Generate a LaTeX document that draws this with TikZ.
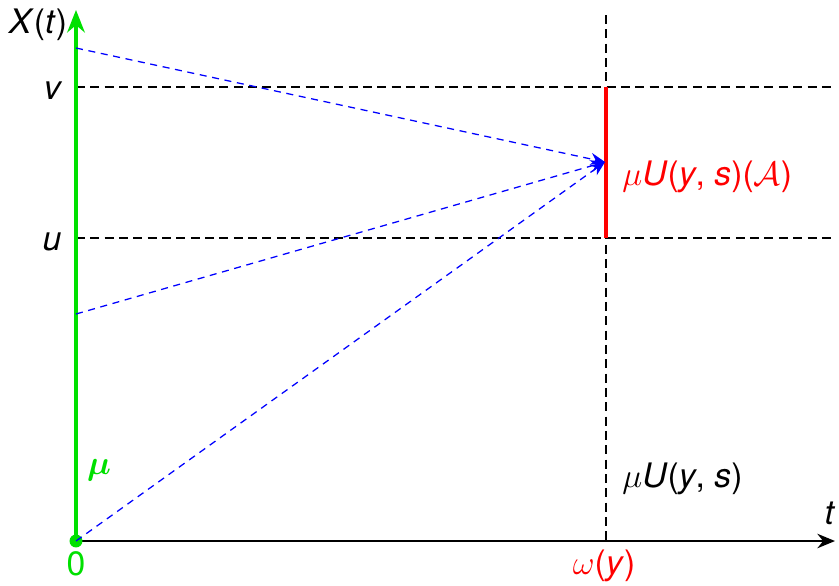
\documentclass[tikz,border=0pt]{standalone}
\usepackage{amsmath}
\usepackage{fontspec}
\setmainfont{TeX Gyre Heros}
\usepackage{tikz}
\usetikzlibrary{arrows.meta,positioning,calc}
\definecolor{brightgreen}{HTML}{00E000}
\newcommand{\vi}[1]{\textit{#1}}

\begin{document}
\begin{tikzpicture}[x=0.0125cm,y=-0.0125cm,
  guide/.style={black,line width=0.5pt,dash pattern=on 3.2pt off 1.9pt},
  ray/.style={blue,line width=0.45pt,dash pattern=on 2.5pt off 2pt,-{Stealth[length=1.8mm,width=1.5mm]}},
  lab/.style={inner sep=1pt,font=\large}]
\useasboundingbox (0,0) rectangle (839,585);
\coordinate (o) at (76,541);
\coordinate (xend) at (835,541);
\coordinate (yend) at (76,10);
\coordinate (top) at (606,15);
\coordinate (foot) at (606,541);
\coordinate (vl) at (76,87);
\coordinate (vr) at (835,87);
\coordinate (ul) at (76,238);
\coordinate (ur) at (835,238);
\coordinate (va) at (606,87);
\coordinate (ua) at (606,238);
\coordinate (p) at (605,162);
\coordinate (s1) at (76,48);
\coordinate (s2) at (76,314);
% guides
\draw[guide] (vl)--(vr);
\draw[guide] (ul)--(ur);
\draw[guide,line width=0.8pt] (top)--(foot);
\draw[red,line width=1.3pt] (va)--(ua);
% axes
\draw[black,line width=0.85pt,-{Stealth[length=2.2mm,width=1.8mm]}] (o)--(xend);
\draw[brightgreen,line width=1.3pt,-{Stealth[length=2.8mm,width=2.2mm]}] (o)--(yend);
\fill[brightgreen] (o) circle (2.3pt);
% rays
\draw[ray] (s1)--(p);
\draw[ray] (s2)--(p);
\draw[ray] (o)--(p);
% labels
\node[lab] (xt) at (38,25) {\vi{X}(\vi{t})};
\node[lab] (vlab) at (53,91) {\vi{v}};
\node[lab] (ulab) at (52,242) {\vi{u}};
\node[lab] (tlab) at (830,513) {\vi{t}};
\node[lab,text=brightgreen] (zero) at (76,564) {0};
\node[lab,text=red] (om) at (604,566) {$\omega$(\vi{y})};
\node[lab,text=brightgreen] (mu) at (99,470) {$\boldsymbol{\mu}$};
\node[lab,anchor=west] (mus) at (619,479) {$\mu$\vi{U}(\vi{y}, \vi{s})};
\node[lab,anchor=west,text=red] (musa) at (619,177) {$\mu$\vi{U}(\vi{y}, \vi{s})($\mathcal{A}$)};
\end{tikzpicture}
\end{document}
